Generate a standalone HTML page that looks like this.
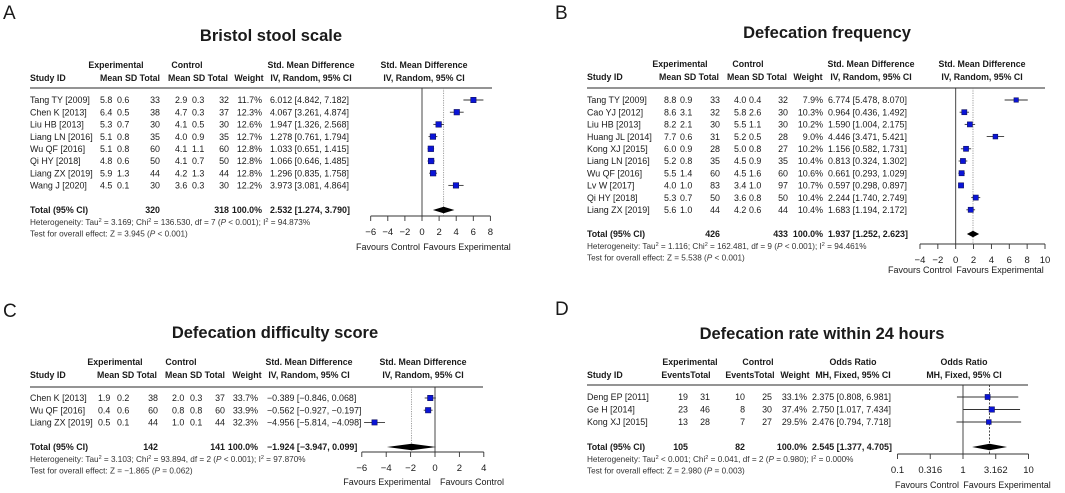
<!DOCTYPE html>
<html><head><meta charset="utf-8">
<style>
html,body{margin:0;padding:0;background:#fff;}
svg{display:block;font-family:"Liberation Sans",Arial,sans-serif;}
</style></head>
<body>
<svg id="fig" width="1065" height="493" viewBox="0 0 1065 493" xmlns="http://www.w3.org/2000/svg"></svg>
<script>
// ---------- Panel A: Bristol stool scale ----------
const aStudies = ["Tang TY [2009]","Chen K [2013]","Liu HB [2013]","Liang LN [2016]","Wu QF [2016]","Qi HY [2018]","Liang ZX [2019]","Wang J [2020]"];
const aExpMean = [5.8,6.4,5.3,5.1,5.1,4.8,5.9,4.5];
const aExpSD = [0.6,0.5,0.7,0.8,0.8,0.6,1.3,0.1];
const aExpN = [33,38,30,35,60,50,44,30];
const aCtlMean = [2.9,4.7,4.1,4.0,4.1,4.1,4.2,3.6];
const aCtlSD = [0.3,0.3,0.5,0.9,1.1,0.7,1.3,0.3];
const aCtlN = [32,37,30,35,60,50,44,30];
const aWeight = [11.7,12.3,12.6,12.7,12.8,12.8,12.8,12.2];
const aEst = [6.012,4.067,1.947,1.278,1.033,1.066,1.296,3.973];
const aLo = [4.842,3.261,1.326,0.761,0.651,0.646,0.835,3.081];
const aHi = [7.182,4.874,2.568,1.794,1.415,1.485,1.758,4.864];
const aTotal = [2.532,1.274,3.790];
const aTicks = [-6,-4,-2,0,2,4,6,8];

// ---------- Panel B: Defecation frequency ----------
const bStudies = ["Tang TY [2009]","Cao YJ [2012]","Liu HB [2013]","Huang JL [2014]","Kong XJ [2015]","Liang LN [2016]","Wu QF [2016]","Lv W [2017]","Qi HY [2018]","Liang ZX [2019]"];
const bExpMean = [8.8,8.6,8.2,7.7,6.0,5.2,5.5,4.0,5.3,5.6];
const bExpSD = [0.9,3.1,2.1,0.6,0.9,0.8,1.4,1.0,0.7,1.0];
const bExpN = [33,32,30,31,28,35,60,83,50,44];
const bCtlMean = [4.0,5.8,5.5,5.2,5.0,4.5,4.5,3.4,3.6,4.2];
const bCtlSD = [0.4,2.6,1.1,0.5,0.8,0.9,1.6,1.0,0.8,0.6];
const bCtlN = [32,30,30,28,27,35,60,97,50,44];
const bWeight = [7.9,10.3,10.2,9.0,10.2,10.4,10.6,10.7,10.4,10.4];
const bEst = [6.774,0.964,1.590,4.446,1.156,0.813,0.661,0.597,2.244,1.683];
const bLo = [5.478,0.436,1.004,3.471,0.582,0.324,0.293,0.298,1.740,1.194];
const bHi = [8.070,1.492,2.175,5.421,1.731,1.302,1.029,0.897,2.749,2.172];
const bTotal = [1.937,1.252,2.623];
const bTicks = [-4,-2,0,2,4,6,8,10];

// ---------- Panel C: Defecation difficulty score ----------
const cStudies = ["Chen K [2013]","Wu QF [2016]","Liang ZX [2019]"];
const cExpMean = [1.9,0.4,0.5];
const cExpSD = [0.2,0.6,0.1];
const cExpN = [38,60,44];
const cCtlMean = [2.0,0.8,1.0];
const cCtlSD = [0.3,0.8,0.1];
const cCtlN = [37,60,44];
const cWeight = [33.7,33.9,32.3];
const cEst = [-0.389,-0.562,-4.956];
const cLo = [-0.846,-0.927,-5.814];
const cHi = [0.068,-0.197,-4.098];
const cTotal = [-1.924,-3.947,0.099];
const cTicks = [-6,-4,-2,0,2,4];

// ---------- Panel D: Defecation rate within 24 hours ----------
const dStudies = ["Deng EP [2011]","Ge H [2014]","Kong XJ [2015]"];
const dExpEvents = [19,23,13];
const dExpN = [31,46,28];
const dCtlEvents = [10,8,7];
const dCtlN = [25,30,27];
const dWeight = [33.1,37.4,29.5];
const dEst = [2.375,2.750,2.476];
const dLo = [0.808,1.017,0.794];
const dHi = [6.981,7.434,7.718];
const dTotal = [2.545,1.377,4.705];
const dTicks = [0.1,0.316,1,3.162,10];

const svg = document.getElementById('fig');
const NS = "http://www.w3.org/2000/svg";
const ROWF = 8.9;
function mk(tag, attrs, parent){
  const e = document.createElementNS(NS, tag);
  for (const k in attrs) e.setAttribute(k, attrs[k]);
  (parent||svg).appendChild(e);
  return e;
}
function txt(parent, x, y, s, size, anchor, weight){
  const t = mk('text', {x:x, y:y, 'font-size':size, 'text-anchor':anchor||'start', 'font-weight':weight||'normal', fill:'#1a1a1a'}, parent);
  t.textContent = s;
  return t;
}
function num(v){ return (v<0?'\u2212':'') + Math.abs(v).toFixed(3); }
function ci(est, lo, hi, pad){
  const f = v => { let s = num(v); if (pad && v>=0) s = ' ' + s; return s; };
  return num(est) + ' [' + f(lo) + ', ' + f(hi) + ']';
}

function panel(P){
  const g = mk('g', {});
  
  
  let t = txt(g, P.letterX, P.letterY, P.letter, 19);
  
  
  t = txt(g, P.titleX, P.titleY, P.title, 16.5, 'middle', 'bold');
  
  
  const hd = mk('g', {}, g);
  
  
  P.headers.forEach(h => { txt(hd, h[0], h[1]==1?P.h1:P.h2, h[2], 8.8, h[3]||'middle', 'bold'); });
  const hl = mk('line', {x1:P.c.study, x2:P.lineEnd, y1:P.hline, y2:P.hline, stroke:'#555', 'stroke-width':1.2}, g);
  
  
  const c = P.c;
  const X = P.scale;
  const dl = mk('line', {x1:X(P.total[0]), x2:X(P.total[0]), y1:P.hline, y2:P.axisY, stroke:P.dashCol||'#888', 'stroke-width':0.8, 'stroke-dasharray':P.dash||'1.2,1.2'}, g);
  
  
  const nl = mk('line', {x1:X(P.nullV), x2:X(P.nullV), y1:P.hline, y2:P.axisY, stroke:'#333', 'stroke-width':0.9}, g);
  
  
  const maxW = Math.max.apply(null, P.weight);
  P.studies.forEach((s, i) => {
    const y = P.row0 + i*P.rowH;
    const r = mk('g', {}, g);
    
    
    txt(r, c.study, y+3.2, s, ROWF);
    P.cells(i).forEach(cell => txt(r, cell[0], y+3.2, cell[1], ROWF, cell[2]||'start'));
    txt(r, c.wr, y+3.2, P.weight[i].toFixed(1)+'%', ROWF, 'end');
    txt(r, c.eff, y+3.2, ci(P.est[i], P.lo[i], P.hi[i], P.pad), ROWF);
    const ln = mk('line', {x1:X(P.lo[i]), x2:X(P.hi[i]), y1:y, y2:y, stroke:'#333', 'stroke-width':0.9}, r);
    
    
    const sz = P.sq*Math.sqrt(P.weight[i]/maxW);
    const sq = mk('rect', {x:X(P.est[i])-sz/2, y:y-sz/2, width:sz, height:sz, fill:'#0a14d8', stroke:'#101060', 'stroke-width':0.6}, r);
    
    
  });
  const ty = P.totalY;
  const tr = mk('g', {}, g);
  
  
  txt(tr, c.study, ty+3.2, 'Total (95% CI)', 8.9, 'start', 'bold');
  txt(tr, c.etr, ty+3.2, P.totN[0], 8.9, 'end', 'bold');
  txt(tr, c.ctr, ty+3.2, P.totN[1], 8.9, 'end', 'bold');
  txt(tr, c.wr, ty+3.2, '100.0%', 8.9, 'end', 'bold');
  txt(tr, c.eff, ty+3.2, ci(P.total[0], P.total[1], P.total[2], P.pad), 8.9, 'start', 'bold');
  const dm = mk('polygon', {points:[X(P.total[1])+','+ty, X(P.total[0])+','+(ty-3.2), X(P.total[2])+','+ty, X(P.total[0])+','+(ty+3.2)].join(' '), fill:'#000'}, tr);
  
  
  const st = mk('g', {}, g);
  
  
  const h = mk('text', {x:c.study, y:P.hetY, 'font-size':8.2, fill:'#333'}, st);
  h.innerHTML = P.het;
  const z = mk('text', {x:c.study, y:P.hetY+11.5, 'font-size':8.2, fill:'#333'}, st);
  z.innerHTML = P.zt;
  const ax = mk('g', {}, g);
  
  
  const t0 = P.ticks[0], t1 = P.ticks[P.ticks.length-1];
  mk('line', {x1:X(t0), x2:X(t1), y1:P.axisY, y2:P.axisY, stroke:'#333', 'stroke-width':0.9}, ax);
  P.ticks.forEach(v => {
    mk('line', {x1:X(v), x2:X(v), y1:P.axisY, y2:P.axisY+5, stroke:'#333', 'stroke-width':0.9}, ax);
    txt(ax, X(v), P.axisY+19, P.tickFmt(v), 9.5, 'middle');
  });
  P.fav.forEach(f => {
    const ft = txt(g, f[0], P.favY, f[1], 9, 'middle');
    
    
  });
}
const sup = s => '<tspan dy="-3" font-size="5.5">'+s+'</tspan><tspan dy="3">';
const tickLin = v => v<0 ? '\u2212'+Math.abs(v) : String(v);

panel({name:'panel-a-bristol-stool-scale', letter:'A', letterX:3, letterY:19, title:'Bristol stool scale', titleX:271, titleY:41,
  h1:68, h2:81, hline:88, lineEnd:492, row0:100, rowH:12.2, totalY:210, hetY:225, axisY:216, favY:250,
  c:{study:30, etr:160, ctr:229, wr:262, eff:270},
  headers:[[116,1,'Experimental'],[130,2,'Mean SD Total'],[187,1,'Control'],[198,2,'Mean SD Total'],[249,2,'Weight'],[311,1,'Std. Mean Difference'],[311,2,'IV, Random, 95% CI'],[424,1,'Std. Mean Difference'],[424,2,'IV, Random, 95% CI'],[30,2,'Study ID','start']],
  studies:aStudies, weight:aWeight, est:aEst, lo:aLo, hi:aHi, total:aTotal, totN:['320','318'], ticks:aTicks, nullV:0, sq:5.6,
  cells:i => [[100,aExpMean[i].toFixed(1)],[117,aExpSD[i].toFixed(1)],[160,aExpN[i],'end'],[175,aCtlMean[i].toFixed(1)],[192,aCtlSD[i].toFixed(1)],[229,aCtlN[i],'end']],
  scale:v => 422 + v*8.55, tickFmt:tickLin,
  het:'Heterogeneity: Tau'+sup('2')+' = 3.169; Chi'+sup('2')+' = 136.530, df = 7 (<tspan font-style="italic">P</tspan> &lt; 0.001); I'+sup('2')+' = 94.873%</tspan></tspan></tspan>',
  zt:'Test for overall effect: Z = 3.945 (<tspan font-style="italic">P</tspan> &lt; 0.001)',
  fav:[[388,'Favours Control'],[467,'Favours Experimental']]});

panel({name:'panel-b-defecation-frequency', letter:'B', letterX:555, letterY:19, title:'Defecation frequency', titleX:827, titleY:38,
  h1:67, h2:80, hline:88, lineEnd:1045, row0:100, rowH:12.2, totalY:234, hetY:249, axisY:244, favY:273,
  c:{study:587, etr:720, ctr:788, wr:823, eff:828},
  headers:[[680,1,'Experimental'],[689,2,'Mean SD Total'],[748,1,'Control'],[757,2,'Mean SD Total'],[808,2,'Weight'],[871,1,'Std. Mean Difference'],[871,2,'IV, Random, 95% CI'],[982,1,'Std. Mean Difference'],[982,2,'IV, Random, 95% CI'],[587,2,'Study ID','start']],
  studies:bStudies, weight:bWeight, est:bEst, lo:bLo, hi:bHi, total:bTotal, totN:['426','433'], ticks:bTicks, nullV:0, sq:5.2,
  cells:i => [[664,bExpMean[i].toFixed(1)],[680,bExpSD[i].toFixed(1)],[720,bExpN[i],'end'],[734,bCtlMean[i].toFixed(1)],[749,bCtlSD[i].toFixed(1)],[788,bCtlN[i],'end']],
  scale:v => 955.7 + v*8.93, tickFmt:tickLin,
  het:'Heterogeneity: Tau'+sup('2')+' = 1.116; Chi'+sup('2')+' = 162.481, df = 9 (<tspan font-style="italic">P</tspan> &lt; 0.001); I'+sup('2')+' = 94.461%</tspan></tspan></tspan>',
  zt:'Test for overall effect: Z = 5.538 (<tspan font-style="italic">P</tspan> &lt; 0.001)',
  fav:[[920,'Favours Control'],[1000,'Favours Experimental']]});

panel({name:'panel-c-defecation-difficulty', letter:'C', letterX:3, letterY:317, title:'Defecation difficulty score', titleX:275, titleY:338,
  h1:365, h2:378, hline:387, lineEnd:483, row0:398, rowH:12.2, totalY:447, hetY:462, axisY:452, favY:485, pad:true,
  c:{study:30, etr:158, ctr:225, wr:258, eff:267},
  headers:[[115,1,'Experimental'],[127,2,'Mean SD Total'],[181,1,'Control'],[195,2,'Mean SD Total'],[247,2,'Weight'],[309,1,'Std. Mean Difference'],[309,2,'IV, Random, 95% CI'],[423,1,'Std. Mean Difference'],[423,2,'IV, Random, 95% CI'],[30,2,'Study ID','start']],
  studies:cStudies, weight:cWeight, est:cEst, lo:cLo, hi:cHi, total:cTotal, totN:['142','141'], ticks:cTicks, nullV:0, sq:5.4,
  cells:i => [[98,cExpMean[i].toFixed(1)],[117,cExpSD[i].toFixed(1)],[158,cExpN[i],'end'],[172,cCtlMean[i].toFixed(1)],[190,cCtlSD[i].toFixed(1)],[225,cCtlN[i],'end']],
  scale:v => 435 + v*12.2, tickFmt:tickLin,
  het:'Heterogeneity: Tau'+sup('2')+' = 3.103; Chi'+sup('2')+' = 93.894, df = 2 (<tspan font-style="italic">P</tspan> &lt; 0.001); I'+sup('2')+' = 97.870%</tspan></tspan></tspan>',
  zt:'Test for overall effect: Z = \u22121.865 (<tspan font-style="italic">P</tspan> = 0.062)',
  fav:[[387,'Favours Experimental'],[472,'Favours Control']]});

panel({name:'panel-d-defecation-rate-24h', letter:'D', letterX:555, letterY:315, title:'Defecation rate within 24 hours', titleX:822, titleY:339,
  h1:365, h2:378, hline:385, lineEnd:1028, row0:397, rowH:12.5, totalY:447, hetY:462, axisY:454, favY:488,
  dash:'2,1.5', dashCol:'#222',
  c:{study:587, etr:688, ctr:745, wr:807, eff:812},
  headers:[[690,1,'Experimental'],[686,2,'EventsTotal'],[758,1,'Control'],[750,2,'EventsTotal'],[795,2,'Weight'],[853,1,'Odds Ratio'],[853,2,'MH, Fixed, 95% CI'],[964,1,'Odds Ratio'],[964,2,'MH, Fixed, 95% CI'],[587,2,'Study ID','start']],
  studies:dStudies, weight:dWeight, est:dEst, lo:dLo, hi:dHi, total:dTotal, totN:['105','82'], ticks:dTicks, nullV:1, sq:5.4,
  cells:i => [[688,dExpEvents[i],'end'],[710,dExpN[i],'end'],[745,dCtlEvents[i],'end'],[772,dCtlN[i],'end']],
  scale:v => 963 + Math.log10(v)*65.5, tickFmt:v => String(v),
  het:'Heterogeneity: Tau'+sup('2')+' &lt; 0.001; Chi'+sup('2')+' = 0.041, df = 2 (<tspan font-style="italic">P</tspan> = 0.980); I'+sup('2')+' = 0.000%</tspan></tspan></tspan>',
  zt:'Test for overall effect: Z = 2.980 (<tspan font-style="italic">P</tspan> = 0.003)',
  fav:[[927,'Favours Control'],[1007,'Favours Experimental']]});
</script>
</body></html>
